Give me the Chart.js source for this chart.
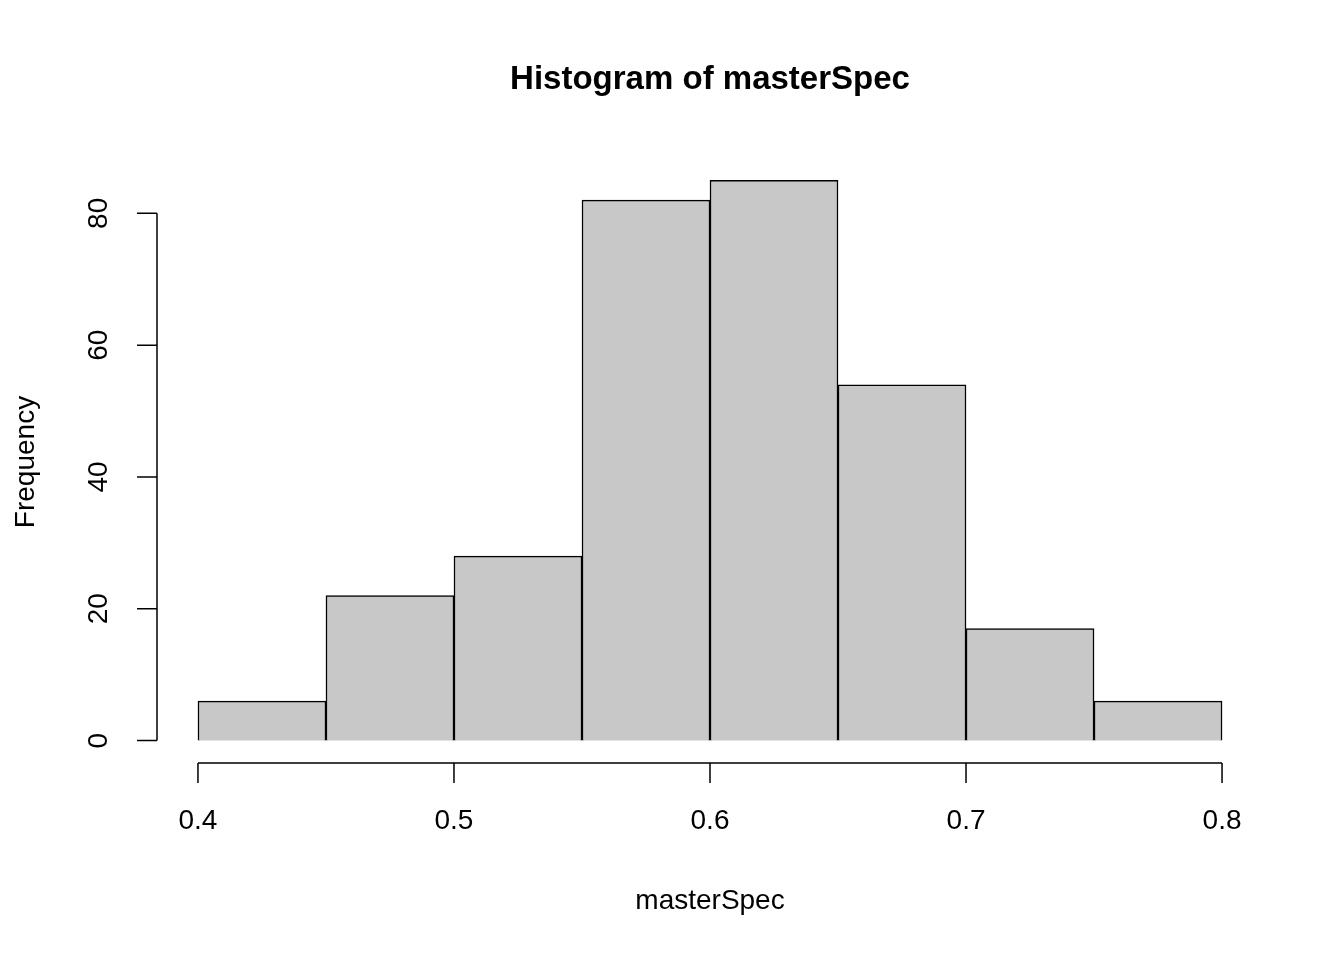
<!DOCTYPE html>
<html>
<head>
<meta charset="utf-8">
<script src="https://cdn.jsdelivr.net/npm/chart.js@4/dist/chart.umd.min.js"></script>
<style>body{margin:0;background:#fff}</style>
</head>
<body>
<canvas id="chart_1" width="1344" height="960"></canvas>
<script>
// bins of the histogram
var binStarts = [0.40, 0.45, 0.50, 0.55, 0.60, 0.65, 0.70, 0.75];
var binWidth = 0.05;
var counts = [6, 22, 28, 82, 85, 54, 17, 6];
var xTicks = [0.4, 0.5, 0.6, 0.7, 0.8];
var yTicks = [0, 20, 40, 60, 80];

var FONT = '"Liberation Sans", Arial, sans-serif';

// axes like R base graphics
const rAxes = {
    id: 'rAxes',
    afterDraw: function (chart) {
        var ctx = chart.ctx;
        var xs = chart.scales.x, ys = chart.scales.y;
        var area = chart.chartArea;
        ctx.save();
        ctx.strokeStyle = '#000';
        ctx.fillStyle = '#000';
        ctx.lineWidth = 1.5;

        // x axis
        var xa = area.bottom;
        ctx.beginPath();
        ctx.moveTo(xs.getPixelForValue(xTicks[0]), xa);
        ctx.lineTo(xs.getPixelForValue(xTicks[xTicks.length - 1]), xa);
        xTicks.forEach(function (t) {
            var px = xs.getPixelForValue(t);
            ctx.moveTo(px, xa);
            ctx.lineTo(px, xa + 20);
        });
        ctx.stroke();
        ctx.font = '28px ' + FONT;
        ctx.textAlign = 'center';
        ctx.textBaseline = 'top';
        xTicks.forEach(function (t) {
            ctx.fillText(t.toFixed(1), xs.getPixelForValue(t), xa + 44);
        });

        // y axis
        var ya = area.left;
        ctx.beginPath();
        ctx.moveTo(ya, ys.getPixelForValue(yTicks[0]));
        ctx.lineTo(ya, ys.getPixelForValue(yTicks[yTicks.length - 1]));
        yTicks.forEach(function (t) {
            var py = ys.getPixelForValue(t);
            ctx.moveTo(ya, py);
            ctx.lineTo(ya - 20, py);
        });
        ctx.stroke();
        yTicks.forEach(function (t) {
            ctx.save();
            ctx.translate(ya - 44, ys.getPixelForValue(t));
            ctx.rotate(-Math.PI / 2);
            ctx.textBaseline = 'bottom';
            ctx.fillText(String(t), 0, 0);
            ctx.restore();
        });

        // labels and title
        ctx.textBaseline = 'middle';
        ctx.fillText('masterSpec', 710, 901);
        ctx.save();
        ctx.translate(26, 462);
        ctx.rotate(-Math.PI / 2);
        ctx.fillText('Frequency', 0, 0);
        ctx.restore();
        ctx.font = 'bold 33px ' + FONT;
        ctx.fillText('Histogram of masterSpec', 710, 80);
        ctx.restore();
    }
};

const chart_1 = document.getElementById('chart_1').getContext('2d');
const chart1 = new Chart(chart_1, {
    type: 'bar',
    data: {
        datasets: [{
            data: binStarts.map(function (s, i) { return { x: s + binWidth / 2, y: counts[i] }; }),
            backgroundColor: '#c8c8c8',
            borderColor: '#000',
            borderWidth: 1.5,
            barPercentage: 1,
            categoryPercentage: 1,
            grouped: false
        }]
    },
    options: {
        responsive: false,
        animation: false,
        layout: { padding: { left: 157, right: 81, top: 158, bottom: 197 } },
        plugins: { legend: { display: false }, tooltip: { enabled: false } },
        scales: {
            x: { type: 'linear', min: 0.384, max: 0.816, display: false, offset: false },
            y: { min: -3.4, max: 88.4, display: false }
        }
    },
    plugins: [rAxes]
});
</script>
</body>
</html>
